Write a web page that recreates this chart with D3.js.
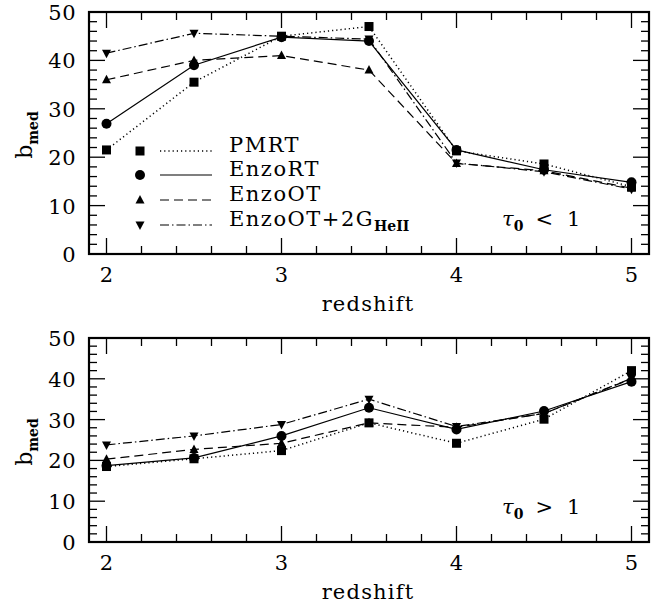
<!DOCTYPE html>
<html lang="en">
<head>
	<meta charset="utf-8">
	<title>b_med vs redshift</title>
	<script src="https://d3js.org/d3.v7.min.js"></script>
	<style>
		body { margin: 0; background: #fff; }
		text { font-family: "DejaVu Serif", serif; fill: #000; }
	</style>
</head>
<body>
<div id="chart"></div>
<script>
	// redshift bins
	var redshift = [2, 2.5, 3, 3.5, 4, 4.5, 5];

	// tau_0 < 1 (top panel)
	var pmrtLow   = [21.5, 35.5, 45.0, 47.0, 21.3, 18.6, 13.9];
	var enzoRTLow = [26.9, 39.0, 44.8, 44.0, 21.5, 17.4, 14.8];
	var enzoOTLow = [36.0, 40.0, 41.0, 38.0, 18.7, 17.2, 13.6];
	var enzoHeLow = [41.5, 45.6, 45.0, 44.4, 18.8, 17.0, 13.4];

	// tau_0 > 1 (bottom panel)
	var pmrtHigh   = [18.5, 20.4, 22.4, 29.2, 24.2, 30.1, 42.0];
	var enzoRTHigh = [18.7, 20.6, 26.0, 32.9, 27.6, 32.1, 39.3];
	var enzoOTHigh = [20.3, 22.7, 24.2, 29.2, 28.1, 31.5, 40.0];
	var enzoHeHigh = [23.8, 26.0, 28.8, 35.0, 28.3, 31.5, 40.1];

	var xTicks = [2, 3, 4, 5];
	var yTicks = [0, 10, 20, 30, 40, 50];

	var seriesNames = ["PMRT", "EnzoRT", "EnzoOT", "EnzoOT+2G"];
	var seriesDash = ["1.2,3", null, "9,5", "9,3,1.5,3"];
	var seriesSymbol = ["square", "circle", "up", "down"];

	var W = 662, H = 604;
	var svg = d3.select("#chart").append("svg")
		.attr("width", W).attr("height", H);

	function marker(g, kind, x, y) {
		if (kind === "square") {
			g.append("rect").attr("x", x - 4.5).attr("y", y - 4.5)
				.attr("width", 9).attr("height", 9).attr("fill", "#000");
		} else if (kind === "circle") {
			g.append("circle").attr("cx", x).attr("cy", y).attr("r", 5).attr("fill", "#000");
		} else if (kind === "up") {
			g.append("path").attr("d", "M" + x + "," + (y - 5) + "L" + (x + 4.5) + "," + (y + 3.5) + "L" + (x - 4.5) + "," + (y + 3.5) + "Z")
				.attr("fill", "#000");
		} else {
			g.append("path").attr("d", "M" + x + "," + (y + 5) + "L" + (x + 4.5) + "," + (y - 3.5) + "L" + (x - 4.5) + "," + (y - 3.5) + "Z")
				.attr("fill", "#000");
		}
	}

	function panel(top, bottom, data, tauSign, legend) {
		var left = 89, right = 649;
		var x = d3.scaleLinear().domain([1.9, 5.1]).range([left, right]);
		var y = d3.scaleLinear().domain([0, 50]).range([bottom, top]);
		var g = svg.append("g");

		// minor and major ticks on all four sides
		var xMinor = d3.range(20, 51, 2).map(function(d) { return d / 10; });
		xMinor.forEach(function(v) {
			var major = Math.abs(v - Math.round(v)) < 1e-6;
			var len = major ? 16 : 8;
			g.append("line").attr("x1", x(v)).attr("x2", x(v)).attr("y1", bottom).attr("y2", bottom - len)
				.attr("stroke", "#000").attr("stroke-width", 1.3);
			g.append("line").attr("x1", x(v)).attr("x2", x(v)).attr("y1", top).attr("y2", top + len)
				.attr("stroke", "#000").attr("stroke-width", 1.3);
		});
		d3.range(0, 51, 2).forEach(function(v) {
			var len = v % 10 === 0 ? 16 : 8;
			g.append("line").attr("x1", left).attr("x2", left + len).attr("y1", y(v)).attr("y2", y(v))
				.attr("stroke", "#000").attr("stroke-width", 1.3);
			g.append("line").attr("x1", right).attr("x2", right - len).attr("y1", y(v)).attr("y2", y(v))
				.attr("stroke", "#000").attr("stroke-width", 1.3);
		});

		g.append("rect").attr("x", left).attr("y", top).attr("width", right - left).attr("height", bottom - top)
			.attr("fill", "none").attr("stroke", "#000").attr("stroke-width", 2.2);

		// tick labels
		xTicks.forEach(function(v) {
			g.append("text").attr("x", x(v)).attr("y", bottom + 28).attr("text-anchor", "middle")
				.attr("font-size", 21).text(v);
		});
		yTicks.forEach(function(v) {
			g.append("text").attr("x", 76).attr("y", y(v) + 8).attr("text-anchor", "end")
				.attr("font-size", 21).attr("letter-spacing", 0.5).text(v);
		});

		g.append("text").attr("x", 368).attr("y", bottom + 57).attr("text-anchor", "middle")
			.attr("font-size", 21).attr("letter-spacing", 1.2).text("redshift");

		var yl = g.append("text").attr("transform", "translate(32," + ((top + bottom) / 2 + 2) + ") rotate(-90)")
			.attr("text-anchor", "middle").attr("font-size", 22);
		yl.append("tspan").text("b");
		yl.append("tspan").attr("dy", 6).attr("font-size", 14).attr("font-weight", "bold").text("med");

		// data lines and markers
		var line = d3.line().x(function(d, i) { return x(redshift[i]); }).y(function(d) { return y(d); });
		data.forEach(function(vals, k) {
			g.append("path").attr("d", line(vals)).attr("fill", "none").attr("stroke", "#000")
				.attr("stroke-width", k === 0 ? 1.5 : 1.2)
				.attr("stroke-dasharray", seriesDash[k]);
			vals.forEach(function(v, i) { marker(g, seriesSymbol[k], x(redshift[i]), y(v)); });
		});

		// tau label
		var t = g.append("text").attr("x", 502).attr("y", bottom - 28).attr("font-size", 21);
		t.append("tspan").attr("font-style", "italic").text("τ");
		t.append("tspan").attr("dy", 5).attr("font-size", 14).attr("font-weight", "bold").text("0");
		t.append("tspan").attr("dy", -5).attr("dx", 12).text(tauSign);
		t.append("tspan").attr("dx", 14).text("1");

		if (legend) {
			var rowsY = [152, 176, 201, 226];
			seriesNames.forEach(function(name, k) {
				marker(g, seriesSymbol[k], 140, rowsY[k] - 1);
				g.append("line").attr("x1", 160).attr("x2", 212).attr("y1", rowsY[k] - 1).attr("y2", rowsY[k] - 1)
					.attr("stroke", "#000").attr("stroke-width", k === 0 ? 1.5 : 1.2)
					.attr("stroke-dasharray", seriesDash[k]);
				var lt = g.append("text").attr("x", 229).attr("y", rowsY[k]).attr("font-size", 21)
					.attr("letter-spacing", 1.5).text(name);
				if (k === 3) {
					lt.append("tspan").attr("dy", 5).attr("font-size", 14).attr("font-weight", "bold")
						.attr("letter-spacing", 0).text("HeII");
				}
			});
		}
	}

	panel(12, 254, [pmrtLow, enzoRTLow, enzoOTLow, enzoHeLow], "<", true);
	panel(338, 542, [pmrtHigh, enzoRTHigh, enzoOTHigh, enzoHeHigh], ">", false);
</script>
</body>
</html>
